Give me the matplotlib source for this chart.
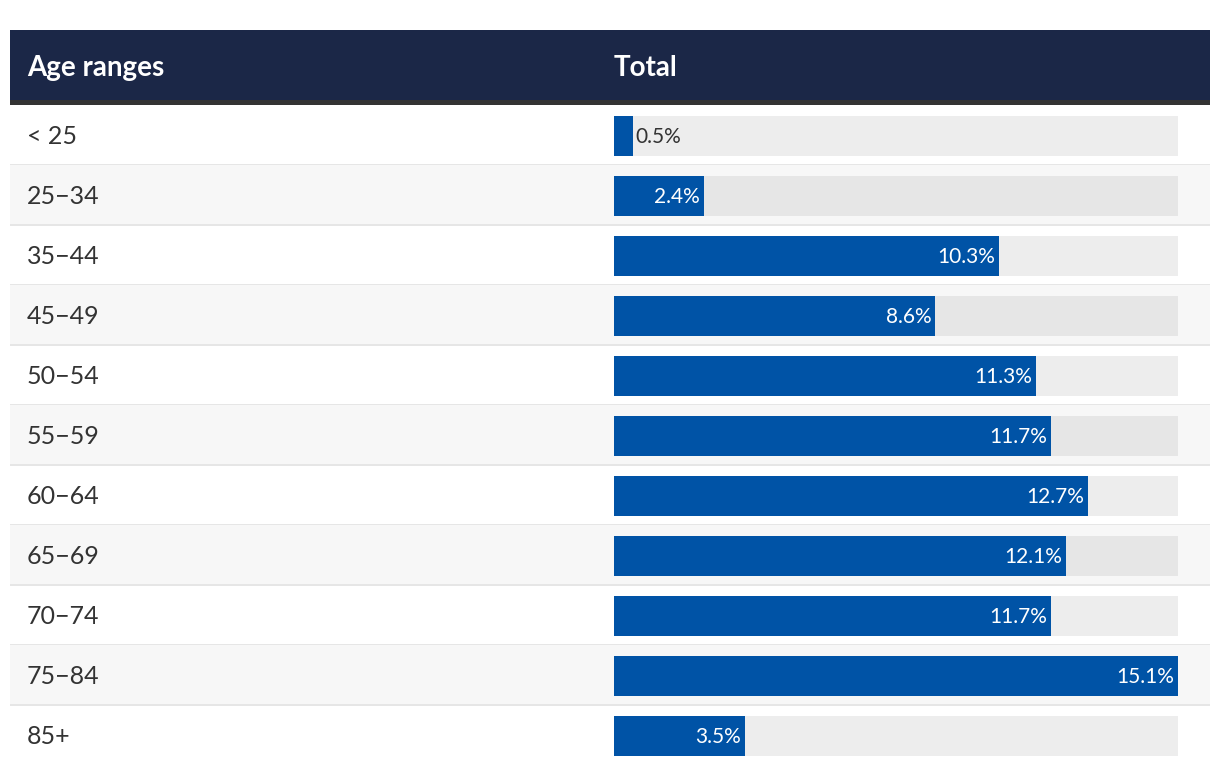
import numpy as np
import matplotlib
matplotlib.use('Agg')
from matplotlib import pyplot as plt
from matplotlib.patches import Rectangle

age_ranges = ['< 25', '25\u221234', '35\u221244', '45\u221249', '50\u221254', '55\u221259',
              '60\u221264', '65\u221269', '70\u221274', '75\u221284', '85+']
totals = [0.5, 2.4, 10.3, 8.6, 11.3, 11.7, 12.7, 12.1, 11.7, 15.1, 3.5]
headers = ['Age ranges', 'Total']

W, H = 1220, 774
plt.rcParams['font.family'] = ['Lato', 'DejaVu Sans']

fig = plt.figure(figsize=(W / 100, H / 100), dpi=100)

# background table in pixel coordinates
bg = fig.add_axes([0, 0, 1, 1])
bg.set_xlim(0, W)
bg.set_ylim(H, 0)
bg.axis('off')

left, right = 10, 1210
top_rows, row_h = 105, 60
bg.add_patch(Rectangle((left, 30), right - left, 71, color='#1b2747', lw=0))
bg.add_patch(Rectangle((left, 100), right - left, 5, color='#333333', lw=0))
bg.text(27, 68, headers[0], color='white', fontsize=20, fontweight='bold', va='center')
bg.text(614, 68, headers[1], color='white', fontsize=20, fontweight='bold', va='center')

n = len(age_ranges)
for i, lab in enumerate(age_ranges):
    y0 = top_rows + i * row_h
    if i % 2 == 1:
        bg.add_patch(Rectangle((left, y0), right - left, row_h, color='#f7f7f7', lw=0))
    if i < n - 1:
        bg.add_patch(Rectangle((left, y0 + row_h - 1), right - left, 2, color='#e6e6e6', lw=0))
    bg.text(27, y0 + row_h / 2 + 2, lab, color='#333333', fontsize=18, va='center')

# bars
ax = fig.add_axes([614 / W, 1 - (top_rows + 1 + n * row_h) / H, 564 / W, n * row_h / H])
ax.set_xlim(0, max(totals))
ax.set_ylim(n, 0)
ax.axis('off')
ax.patch.set_alpha(0)

ypos = np.arange(n) + 0.5
track = ['#ededed' if i % 2 == 0 else '#e6e6e6' for i in range(n)]
ax.barh(ypos, [max(totals)] * n, height=40 / 60, color=track, lw=0)
ax.barh(ypos, totals, height=40 / 60, color='#0053a6', lw=0)

for y, v in zip(ypos, totals):
    txt = '%.1f%%' % v
    if v < 1:
        ax.text(v + 0.07, y + 0.02, txt, color='#333333', fontsize=15, va='center', ha='left')
    else:
        ax.text(v - 0.1, y + 0.02, txt, color='white', fontsize=15, va='center', ha='right')

fig.savefig('out.png', dpi=100)
